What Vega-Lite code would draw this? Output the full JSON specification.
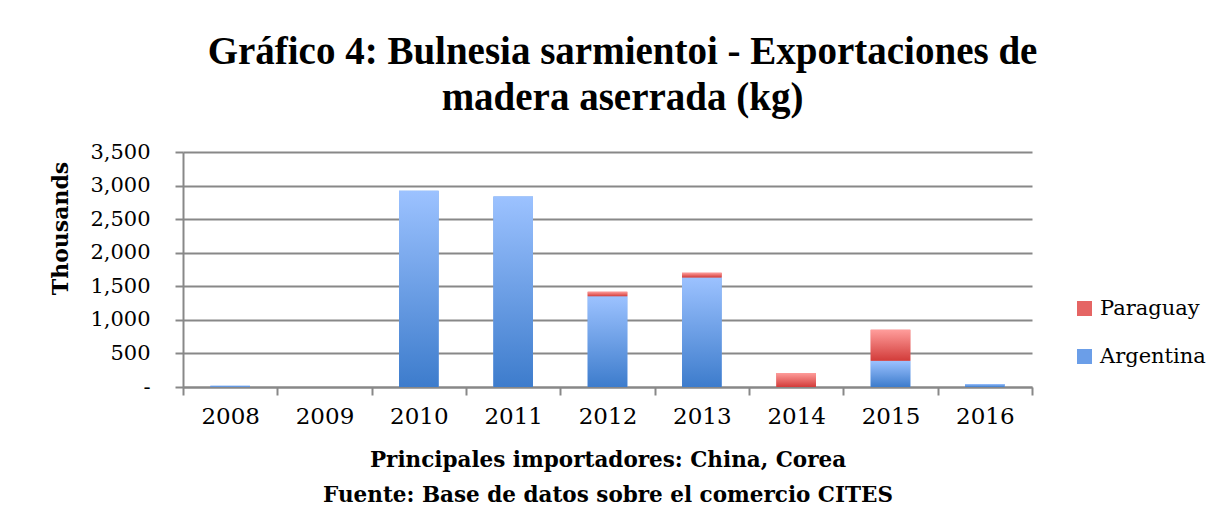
{
  "$schema": "https://vega.github.io/schema/vega-lite/v6.json",
  "width": 849,
  "height": 235,
  "autosize": {"type": "none"},
  "padding": {"left": 183, "top": 152, "right": 189, "bottom": 144},
  "background": "white",
  "title": {
    "text": ["Gráfico 4: Bulnesia sarmientoi - Exportaciones de", "madera aserrada (kg)"],
    "font": "Liberation Serif",
    "fontSize": 39,
    "fontWeight": "bold",
    "color": "#000000",
    "lineHeight": 46,
    "offset": 23,
    "dx": 15,
    "anchor": "middle"
  },
  "data": {
    "values": [
      {"year": "2008", "country": "Argentina", "value": 18},
      {"year": "2008", "country": "Paraguay", "value": 0},
      {"year": "2009", "country": "Argentina", "value": 0},
      {"year": "2009", "country": "Paraguay", "value": 0},
      {"year": "2010", "country": "Argentina", "value": 2922},
      {"year": "2010", "country": "Paraguay", "value": 0},
      {"year": "2011", "country": "Argentina", "value": 2836},
      {"year": "2011", "country": "Paraguay", "value": 0},
      {"year": "2012", "country": "Argentina", "value": 1350},
      {"year": "2012", "country": "Paraguay", "value": 70},
      {"year": "2013", "country": "Argentina", "value": 1632},
      {"year": "2013", "country": "Paraguay", "value": 70},
      {"year": "2014", "country": "Argentina", "value": 0},
      {"year": "2014", "country": "Paraguay", "value": 210},
      {"year": "2015", "country": "Argentina", "value": 392},
      {"year": "2015", "country": "Paraguay", "value": 460},
      {"year": "2016", "country": "Argentina", "value": 45},
      {"year": "2016", "country": "Paraguay", "value": 0}
    ]
  },
  "encoding": {
    "x": {
      "field": "year",
      "type": "ordinal",
      "scale": {"paddingInner": 0, "paddingOuter": 0},
      "axis": {
        "title": ["Principales importadores: China, Corea", "Fuente: Base de datos sobre el comercio CITES"],
        "titleFont": "DejaVu Serif",
        "titleFontSize": 21.5,
        "titleFontWeight": "bold",
        "titleColor": "#000000",
        "titleLineHeight": 35,
        "titlePadding": 21,
        "labelAngle": 0,
        "labelFont": "DejaVu Serif",
        "labelFontSize": 23,
        "labelColor": "#000000",
        "labelPadding": 10,
        "tickBand": "extent",
        "tickSize": 8,
        "tickColor": "#888888",
        "tickWidth": 2,
        "domainColor": "#888888",
        "domainWidth": 2,
        "grid": false
      }
    },
    "y": {
      "field": "value",
      "type": "quantitative",
      "stack": "zero",
      "scale": {"domain": [0, 3500], "nice": false},
      "axis": {
        "title": "Thousands",
        "titleFont": "DejaVu Serif",
        "titleFontSize": 22,
        "titleFontWeight": "bold",
        "titleColor": "#000000",
        "titlePadding": 17,
        "titleY": 76,
        "values": [0, 500, 1000, 1500, 2000, 2500, 3000, 3500],
        "labelExpr": "datum.value === 0 ? '-' : format(datum.value, ',')",
        "labelFont": "DejaVu Serif",
        "labelFontSize": 21,
        "labelColor": "#000000",
        "labelPadding": 25,
        "tickSize": 8,
        "tickColor": "#888888",
        "tickWidth": 2,
        "domainColor": "#888888",
        "domainWidth": 2,
        "gridColor": "#888888",
        "gridWidth": 2
      }
    },
    "order": {"field": "country", "sort": "ascending"}
  },
  "layer": [
    {
      "mark": {"type": "bar", "width": {"band": 0.42}},
      "encoding": {
        "color": {
          "field": "country",
          "type": "nominal",
          "scale": {"domain": ["Paraguay", "Argentina"], "range": ["#e56564", "#6b9ee8"]},
          "legend": {
            "title": null,
            "orient": "none",
            "legendX": 891,
            "legendY": 146,
            "symbolType": "square",
            "symbolSize": 225,
            "symbolStrokeWidth": 0,
            "symbolOpacity": 1,
            "labelFont": "DejaVu Serif",
            "labelFontSize": 21,
            "labelColor": "#000000",
            "rowPadding": 26,
            "labelOffset": 5,
            "encode": {
              "symbols": {
                "enter": {
                  "fill": {"signal": "datum.value === 'Paraguay' ? {gradient: 'linear', x1: 0, y1: 0, x2: 0, y2: 1, stops: [{offset: 0, color: '#ff9d9b'}, {offset: 1, color: '#d23c3a'}]} : {gradient: 'linear', x1: 0, y1: 0, x2: 0, y2: 1, stops: [{offset: 0, color: '#9cc2ff'}, {offset: 1, color: '#3d7ccc'}]}"}
                },
                "update": {
                  "fill": {"signal": "datum.value === 'Paraguay' ? {gradient: 'linear', x1: 0, y1: 0, x2: 0, y2: 1, stops: [{offset: 0, color: '#ff9d9b'}, {offset: 1, color: '#d23c3a'}]} : {gradient: 'linear', x1: 0, y1: 0, x2: 0, y2: 1, stops: [{offset: 0, color: '#9cc2ff'}, {offset: 1, color: '#3d7ccc'}]}"}
                }
              }
            }
          }
        }
      }
    },
    {
      "mark": {"type": "bar", "width": {"band": 0.42}},
      "encoding": {
        "fill": {
          "condition": {
            "test": "datum.country === 'Paraguay'",
            "value": {"gradient": "linear", "x1": 0, "y1": 0, "x2": 0, "y2": 1, "stops": [{"offset": 0, "color": "#ff9d9b"}, {"offset": 1, "color": "#d23c3a"}]}
          },
          "value": {"gradient": "linear", "x1": 0, "y1": 0, "x2": 0, "y2": 1, "stops": [{"offset": 0, "color": "#9cc2ff"}, {"offset": 1, "color": "#3d7ccc"}]}
        }
      }
    }
  ],
  "config": {
    "view": {"stroke": null}
  }
}
